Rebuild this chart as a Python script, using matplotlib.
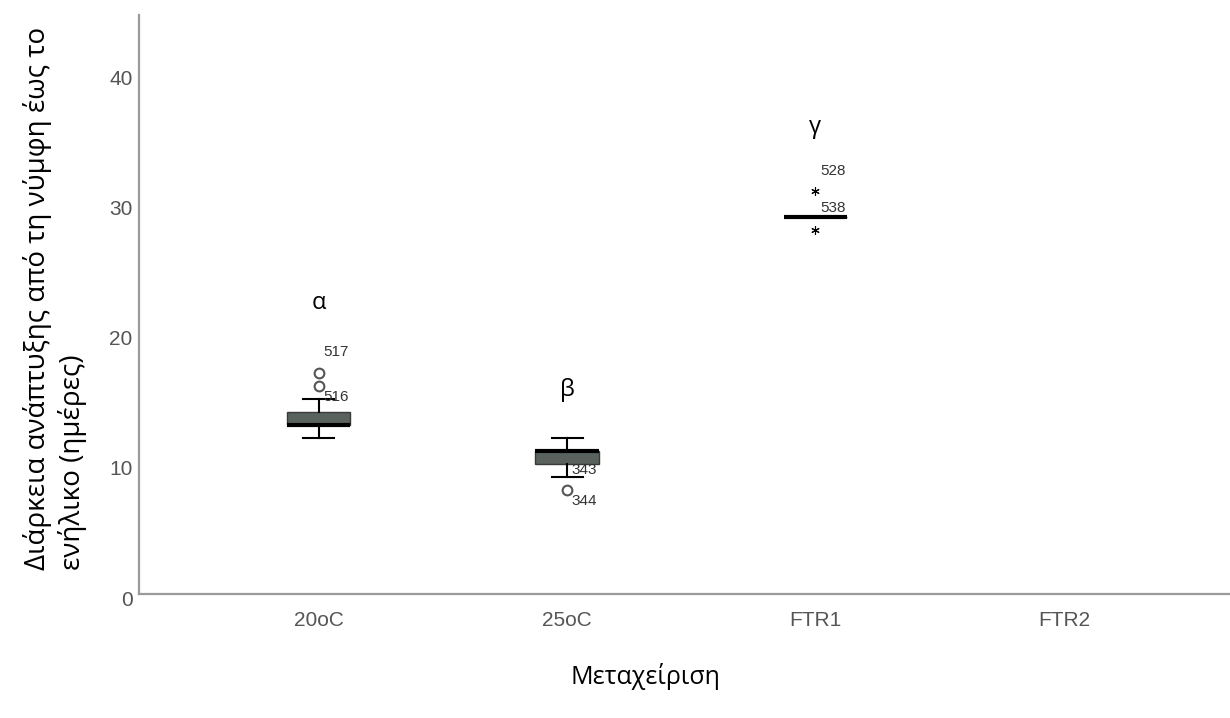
import matplotlib
matplotlib.use("Agg")
import matplotlib.pyplot as plt
import matplotlib.transforms as mtransforms

# groups and summary stats
groups = ["20oC", "25oC", "FTR1", "FTR2"]
q1 = [13, 10, 29]
medians = [13, 11, 29]
q3 = [14, 11, 29]
whisk_lo = [12, 9, 29]
whisk_hi = [15, 12, 29]
outliers = [[16, 17], [8], []]
extremes = [[], [], [28, 31]]

# case-number labels: (text, group index, y of the label)
case_labels = [("517", 0, 18.6), ("516", 0, 15.15), ("343", 1, 9.5),
               ("344", 1, 7.15), ("528", 2, 32.5), ("538", 2, 29.7)]

# significance letters
letters = ["α", "β", "γ"]
letter_y = [22.4, 15.7, 35.9]

greek = ["Open Sans", "DejaVu Sans"]
tick_font = ["Liberation Sans", "DejaVu Sans"]

fig = plt.figure(figsize=(12.3, 7.18), dpi=100)
ax = fig.add_axes([0.1133, 0.1727, 0.8867, 0.8064])

stats = []
for i in range(len(q1)):
    stats.append(dict(med=medians[i], q1=q1[i], q3=q3[i],
                      whislo=whisk_lo[i], whishi=whisk_hi[i], fliers=[]))

ax.bxp(stats, positions=range(len(q1)), widths=0.255, patch_artist=True,
       showfliers=False,
       boxprops=dict(facecolor="#5a625e", edgecolor="#3a3a3a", linewidth=1),
       medianprops=dict(color="black", linewidth=3, solid_capstyle="butt"),
       whiskerprops=dict(color="black", linewidth=1.5),
       capprops=dict(color="black", linewidth=1.5),
       capwidths=0.125)

for i, pts in enumerate(outliers):
    if pts:
        ax.plot([i] * len(pts), pts, "o", ms=7, mfc="white", mec="#555555", mew=1.5)
for i, pts in enumerate(extremes):
    if pts:
        ax.plot([i] * len(pts), pts, marker=(6, 2, 0), ls="none", ms=6,
                color="black", mew=0.8)

for txt, gi, yv in case_labels:
    ax.text(gi + 0.018, yv, txt, fontsize=11, color="#333333",
            family=tick_font, va="center", ha="left")

for i, (lt, ly) in enumerate(zip(letters, letter_y)):
    ax.text(i, ly, lt, fontsize=17, family=greek, ha="center", va="center")

ax.set_xlim(-0.722, 3.669)
ax.set_ylim(0, 44.5)
ax.set_xticks(range(len(groups)))
ax.set_xticklabels(groups)
ax.set_yticks([0, 10, 20, 30, 40])
ax.tick_params(length=0, labelsize=15, labelcolor="#555555")
ax.tick_params(axis="x", pad=12)
ax.tick_params(axis="y", pad=5)
shift = mtransforms.ScaledTranslation(0, -4 / 100, fig.dpi_scale_trans)
for lab in ax.get_yticklabels():
    lab.set_transform(lab.get_transform() + shift)
for lab in ax.get_xticklabels() + ax.get_yticklabels():
    lab.set_family(tick_font)

for s in ["top", "right"]:
    ax.spines[s].set_visible(False)
for s in ["left", "bottom"]:
    ax.spines[s].set_color("#9a9a9a")
    ax.spines[s].set_linewidth(1.6)

fig.text(0.0447, 0.584, "Διάρκεια ανάπτυξης από τη νύμφη έως το\nενήλικο (ημέρες)",
         fontsize=20, family=greek, rotation=90, ha="center", va="center",
         multialignment="left", linespacing=1.25)
fig.text(0.525, 0.058, "Μεταχείριση", fontsize=18, family=greek,
         ha="center", va="center")

fig.savefig("out.png", dpi=100)
